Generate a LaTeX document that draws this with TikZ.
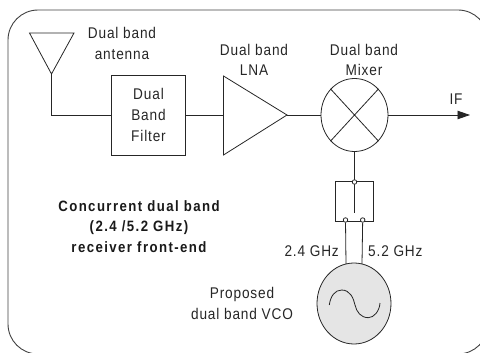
\documentclass[tikz,border=0pt]{standalone}
\usepackage{fontspec}
\setmainfont{Liberation Sans}[LetterSpace=5.5,FakeStretch=0.88]
\newfontfamily\boldlab{Liberation Sans}[LetterSpace=9.5,FakeStretch=0.88]
\usetikzlibrary{arrows.meta,shapes.geometric}
\tikzset{
  wire/.style={draw=black!85,line width=0.8pt},
  lbl/.style={inner sep=0pt,align=center,font=\fontsize{15.5}{20.7}\selectfont,text=black!85},
  blbl/.style={inner sep=0pt,align=center,font=\fontsize{15}{20.7}\selectfont\boldlab\bfseries,text=black!90},
  port/.style={circle,draw=black!85,fill=white,line width=0.8pt,minimum size=4.5pt,inner sep=0pt},
}
\begin{document}
\begin{tikzpicture}[x=1pt,y=-1pt]
\useasboundingbox (0,0) rectangle (480,353);
\begin{scope}
\clip (0,0) rectangle (480,353);
\draw[draw=black!75,line width=0.9pt,rounded corners=30pt] (8,10) rectangle (488,354);
\end{scope}
% antenna
\draw[wire] (29.5,33) -- (74,33) -- (51.5,74) -- cycle;
\coordinate (ant) at (51.5,74);
\node[wire,draw,minimum width=74pt,minimum height=80pt,inner sep=0pt,lbl] (filter) at (148.5,115) {Dual\\Band\\Filter};
\draw[wire] (ant) -- (ant |- filter.west) -- (filter.west);
% LNA
\coordinate (lnaw) at (223.5,115);
\coordinate (lnae) at (287,115);
\draw[wire] (223.5,76) -- (lnae) -- (223.5,155) -- cycle;
\draw[wire] (filter.east) -- (lnaw);
% mixer
\node[ellipse,wire,draw,minimum width=67pt,minimum height=73pt,inner sep=0pt] (mix) at (354.5,115) {};
\draw[wire] (mix.north west) -- (mix.south east) (mix.north east) -- (mix.south west);
\draw[wire] (lnae) -- (mix.west);
\coordinate (ifend) at (470,115);
\draw[wire,-{Triangle[length=12.5pt,width=8.5pt]}] (mix.east) -- (ifend);
% switch
\node[wire,draw,minimum width=37.5pt,minimum height=40.5pt,inner sep=0pt] (sw) at (354.5,201.5) {};
\coordinate (swend) at (354.5,213);
\draw[wire] (mix.south) -- (swend);
\node[port] (top) at (354.5,182) {};
\node[port] (p1) at (345.5,220) {};
\node[port] (p2) at (362.7,220) {};
% VCO
\node[ellipse,draw=black!85,fill=black!10,line width=0.8pt,minimum width=74pt,minimum height=81pt,inner sep=0pt] (vco) at (354,303.5) {};
\draw[wire] (p1) -- (346,264);
\draw[wire] (p2) -- (362,264);
\draw[wire] (329.3,305) .. controls (330.5,296) and (335,290) .. (341.7,290) .. controls (350,290) and (353.5,298) .. (355,305) .. controls (356.5,312) and (361,317.7) .. (368.3,317.7) .. controls (374,317.7) and (379.5,311) .. (380,303);
% labels
\node[lbl] (l1) at (122,43.5) {Dual band\\antenna};
\node[lbl] (l2) at (254,60) {Dual band\\LNA};
\node[lbl] (l3) at (364,60) {Dual band\\Mixer};
\node[lbl] (l4) at (456,99) {IF};
\node[blbl] (l5) at (139,226.5) {Concurrent dual band\\(2.4 /5.2 GHz)\\receiver front-end};
\node[lbl] (l7) at (242,303.5) {Proposed\\dual band VCO};
\node[lbl,anchor=east] (l8) at (339,251) {2.4 GHz};
\node[lbl,anchor=west] (l9) at (368,251) {5.2 GHz};
\end{tikzpicture}
\end{document}
